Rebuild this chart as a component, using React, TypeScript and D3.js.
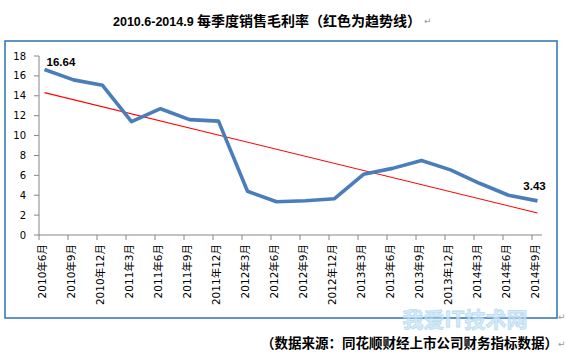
import React, { useEffect, useRef } from "react";
import * as d3 from "d3";

// quarterly gross margin, 2010.6 - 2014.9
const quarters: string[] = [
  "2010年6月", "2010年9月", "2010年12月", "2011年3月", "2011年6月", "2011年9月",
  "2011年12月", "2012年3月", "2012年6月", "2012年9月", "2012年12月", "2013年3月",
  "2013年6月", "2013年9月", "2013年12月", "2014年3月", "2014年6月", "2014年9月",
];
const margins: number[] = [
  16.64, 15.6, 15.05, 11.4, 12.7, 11.6, 11.45, 4.4, 3.35, 3.45, 3.65, 6.1, 6.7,
  7.5, 6.55, 5.2, 4.0, 3.43,
];
const yTicks: number[] = [0, 2, 4, 6, 8, 10, 12, 14, 16, 18];

const title = "每季度销售毛利率（红色为趋势线）";
const source = "（数据来源：同花顺财经上市公司财务指标数据）";

const W = 566,
  H = 354;

const App: React.FC = () => {
  const ref = useRef<SVGSVGElement | null>(null);

  useEffect(() => {
    const svg = d3.select(ref.current);
    svg.selectAll("*").remove();

    const left = 39,
      right = 532,
      top = 56,
      bottom = 235;
    const pointShift = 5.5; // points sit a little right of the ticks

    const x = d3.scalePoint<string>().domain(quarters).range([left, right]);
    const y = d3.scaleLinear().domain([0, 18]).range([bottom, top]);

    svg.append("rect").attr("width", W).attr("height", H).attr("fill", "#fff");

    // title
    const t = svg
      .append("text")
      .attr("x", 113)
      .attr("y", 26)
      .attr("font-weight", "bold")
      .attr("fill", "#000");
    t.append("tspan")
      .attr("font-family", "'Liberation Sans', Arial, sans-serif")
      .attr("font-size", 12.5)
      .text("2010.6-2014.9 ");
    t.append("tspan")
      .attr("font-family", "'Noto Sans CJK SC', sans-serif")
      .attr("font-size", 14)
      .text(title);
    const tw = (t.node() as SVGTextElement).getComputedTextLength();
    svg
      .append("text")
      .attr("x", 113 + tw + 3)
      .attr("y", 24)
      .attr("font-size", 9)
      .attr("fill", "#999")
      .attr("font-family", "'DejaVu Sans', sans-serif")
      .text("↵");

    // chart frame
    svg
      .append("rect")
      .attr("x", 5)
      .attr("y", 41)
      .attr("width", 552)
      .attr("height", 277)
      .attr("fill", "none")
      .attr("stroke", "#2a72b8")
      .attr("stroke-width", 1.5);

    // watermark
    svg
      .append("text")
      .attr("x", 465)
      .attr("y", 327)
      .attr("text-anchor", "middle")
      .attr("font-family", "'Noto Sans CJK SC', sans-serif")
      .attr("font-weight", "bold")
      .attr("font-size", 21)
      .attr("fill", "#cfe7f7")
      .attr("stroke", "#a9d3ef")
      .attr("stroke-width", 0.8)
      .attr("opacity", 0.8)
      .text("我爱IT技术网");

    // y axis
    const yAxis = svg.append("g");
    yAxis
      .append("line")
      .attr("x1", left)
      .attr("x2", left)
      .attr("y1", y(18))
      .attr("y2", y(0))
      .attr("stroke", "#868686");
    yAxis
      .selectAll("g")
      .data(yTicks)
      .enter()
      .append("g")
      .each(function (d) {
        const g = d3.select(this);
        g.append("line")
          .attr("x1", left - 5)
          .attr("x2", left)
          .attr("y1", y(d))
          .attr("y2", y(d))
          .attr("stroke", "#868686");
        g.append("text")
          .attr("x", 26)
          .attr("y", y(d))
          .attr("dy", "0.36em")
          .attr("text-anchor", "end")
          .attr("font-family", "'DejaVu Sans', Verdana, sans-serif")
          .attr("font-size", 10)
          .attr("fill", "#000")
          .text(d);
      });

    // x axis
    const xAxis = svg.append("g");
    xAxis
      .append("line")
      .attr("x1", left)
      .attr("x2", 542)
      .attr("y1", bottom)
      .attr("y2", bottom)
      .attr("stroke", "#868686");
    xAxis
      .selectAll("line.tick")
      .data(quarters)
      .enter()
      .append("line")
      .attr("class", "tick")
      .attr("x1", (d) => x(d) ?? 0)
      .attr("x2", (d) => x(d) ?? 0)
      .attr("y1", bottom)
      .attr("y2", bottom + 5)
      .attr("stroke", "#868686");
    xAxis
      .selectAll("text")
      .data(quarters)
      .enter()
      .append("text")
      .attr(
        "transform",
        (d) => `translate(${(x(d) ?? 0) + 3},244) rotate(-90)`
      )
      .attr("dy", "0.36em")
      .attr("text-anchor", "end")
      .attr("font-family", "'DejaVu Sans', 'Noto Sans CJK SC', sans-serif")
      .attr("font-size", 10.5)
      .attr("fill", "#000")
      .text((d) => d);

    // trend line (least squares over the series)
    const idx = margins.map((_, i) => i);
    const mx = d3.mean(idx) ?? 0,
      my = d3.mean(margins) ?? 0;
    const sxy = d3.sum(idx, (i) => (i - mx) * (margins[i] - my));
    const sxx = d3.sum(idx, (i) => (i - mx) * (i - mx));
    const slope = sxy / sxx,
      icpt = my - slope * mx;
    const last = quarters.length - 1;
    svg
      .append("line")
      .attr("x1", (x(quarters[0]) ?? 0) + pointShift)
      .attr("y1", y(icpt))
      .attr("x2", (x(quarters[last]) ?? 0) + pointShift)
      .attr("y2", y(icpt + slope * last))
      .attr("stroke", "#ff0000")
      .attr("stroke-width", 1.1);

    // series line
    const line = d3
      .line<number>()
      .x((_, i) => (x(quarters[i]) ?? 0) + pointShift)
      .y((d) => y(d));
    svg
      .append("path")
      .datum(margins)
      .attr("d", line)
      .attr("fill", "none")
      .attr("stroke", "#4a7ebb")
      .attr("stroke-width", 3.6)
      .attr("stroke-linejoin", "round");

    // data labels on first and last point
    const lbl = (i: number, dx: number, dy: number, anchor: string) =>
      svg
        .append("text")
        .attr("x", (x(quarters[i]) ?? 0) + pointShift + dx)
        .attr("y", y(margins[i]) + dy)
        .attr("text-anchor", anchor)
        .attr("font-family", "'Liberation Sans', Arial, sans-serif")
        .attr("font-weight", "bold")
        .attr("font-size", 11.5)
        .attr("fill", "#000")
        .text(margins[i].toFixed(2));
    lbl(0, 2, -4, "start");
    lbl(last, -3, -11, "middle");

    // source note
    svg
      .append("text")
      .attr("x", 261)
      .attr("y", 348)
      .attr("font-family", "'Noto Sans CJK SC', sans-serif")
      .attr("font-weight", "bold")
      .attr("font-size", 13.5)
      .attr("fill", "#000")
      .text(source);

    [316, 343].forEach((yy) =>
      svg
        .append("text")
        .attr("x", 558)
        .attr("y", yy + 4)
        .attr("font-size", 9)
        .attr("fill", "#999")
        .attr("font-family", "'DejaVu Sans', sans-serif")
        .text("↵")
    );
  }, []);

  return (
    <svg
      ref={ref}
      width={W}
      height={H}
      style={{ position: "absolute", left: 0, top: 0 }}
    ></svg>
  );
};

export default App;
